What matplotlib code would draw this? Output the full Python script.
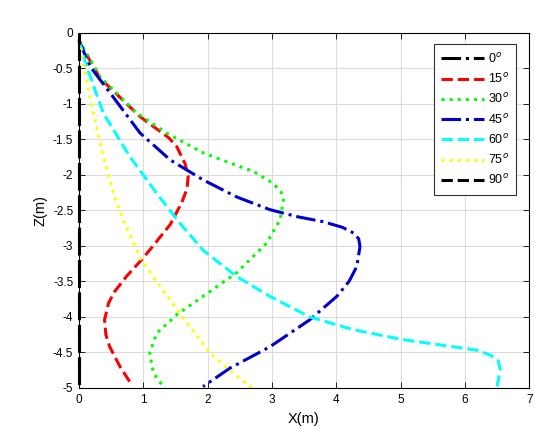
import numpy as np
import matplotlib
matplotlib.use("Agg")
import matplotlib.pyplot as plt

plt.rcParams["font.family"] = ["Liberation Sans", "DejaVu Sans"]
plt.rcParams["axes.unicode_minus"] = False

labels = ["0$^{o}$", "15$^{o}$", "30$^{o}$", "45$^{o}$", "60$^{o}$", "75$^{o}$", "90$^{o}$"]

x0 = [0.0, 0.0]
z0 = [0.0, -5.0]

x15 = [0.0, 0.02, 0.33, 0.95, 1.16, 1.40, 1.52, 1.65, 1.70, 1.68, 1.60, 1.42, 1.10, 0.97,
       0.74, 0.55, 0.46, 0.40, 0.42, 0.48, 0.64, 0.79]
z15 = [-0.1, -0.15, -0.64, -1.18, -1.32, -1.48, -1.60, -1.84, -2.02, -2.20, -2.39, -2.70, -3.06, -3.20,
       -3.43, -3.65, -3.81, -4.04, -4.25, -4.42, -4.70, -4.91]

x30 = [0.0, 0.33, 0.90, 1.36, 1.93, 2.40, 2.71, 3.02, 3.15, 3.18, 3.13, 2.92, 2.45, 1.93,
       1.52, 1.21, 1.10, 1.16, 1.31]
z30 = [-0.1, -0.62, -1.13, -1.41, -1.69, -1.85, -1.95, -2.12, -2.25, -2.35, -2.63, -2.96, -3.38, -3.71,
       -3.97, -4.23, -4.51, -4.79, -4.98]

x45 = [0.0, 0.17, 0.53, 0.95, 1.42, 1.93, 2.45, 2.97, 3.40, 3.80, 4.10, 4.27, 4.35, 4.37,
       4.32, 4.20, 4.01, 3.59, 2.97, 2.35, 1.93]
z45 = [-0.1, -0.47, -0.90, -1.41, -1.79, -2.07, -2.31, -2.49, -2.59, -2.66, -2.74, -2.82, -2.90, -3.01,
       -3.29, -3.50, -3.71, -4.04, -4.42, -4.72, -4.98]

x60 = [0.0, 0.12, 0.38, 0.79, 1.21, 1.57, 1.93, 2.45, 2.97, 3.59, 4.27, 5.04, 5.82, 6.20,
       6.40, 6.52, 6.55, 6.50]
z60 = [-0.1, -0.47, -1.13, -1.74, -2.26, -2.68, -3.06, -3.43, -3.71, -4.00, -4.18, -4.32, -4.42, -4.47,
       -4.54, -4.62, -4.75, -4.98]

x75 = [0.0, 0.17, 0.33, 0.38, 0.55, 0.70, 0.97, 1.57, 2.04, 2.35, 2.69]
z75 = [-0.1, -0.90, -1.55, -1.74, -2.30, -2.65, -3.20, -3.95, -4.51, -4.75, -5.0]

x90 = [0.0, 0.0]
z90 = [0.0, -5.0]

xs = [x0, x15, x30, x45, x60, x75, x90]
zs = [z0, z15, z30, z45, z60, z75, z90]
colors = ["#000000", "#FF0000", "#00FF00", "#0000CC", "#00FFFF", "#FFFF00", "#000000"]
styles = ["-.", "--", ":", "-.", "--", ":", "--"]

fig = plt.figure(figsize=(5.4, 4.28), dpi=100)
ax = fig.add_axes([0.146, 0.0935, 0.834, 0.83])
for x, z, c, s, lab in zip(xs, zs, colors, styles, labels):
    ax.plot(x, z, color=c, linestyle=s, linewidth=2.2, label=lab, clip_on=False)

ax.set_xlim(0, 7)
ax.set_ylim(-5, 0)
ax.set_xticks(np.arange(0, 8, 1))
ax.set_yticks(np.arange(-5, 0.01, 0.5))
ax.set_yticklabels(["-5", "-4.5", "-4", "-3.5", "-3", "-2.5", "-2", "-1.5", "-1", "-0.5", "0"])
ax.tick_params(direction="in", top=True, right=True, labelsize=8.5, length=4, width=0.6, pad=4)
ax.grid(True, color="#DCDCDC", linewidth=0.8)
ax.set_axisbelow(True)
for sp in ax.spines.values():
    sp.set_linewidth(0.8)
ax.set_xlabel("X(m)", fontsize=10.5, labelpad=5)
ax.set_ylabel("Z(m)", fontsize=10.5, labelpad=4)

leg = ax.legend(loc="upper right", bbox_to_anchor=(0.985, 0.985), fontsize=9, fancybox=False,
                framealpha=1, edgecolor="#333333", handlelength=3.4, labelspacing=0.5,
                handletextpad=0.3, borderpad=0.6)
leg.get_frame().set_linewidth(0.8)

fig.savefig("out.png", dpi=100)
